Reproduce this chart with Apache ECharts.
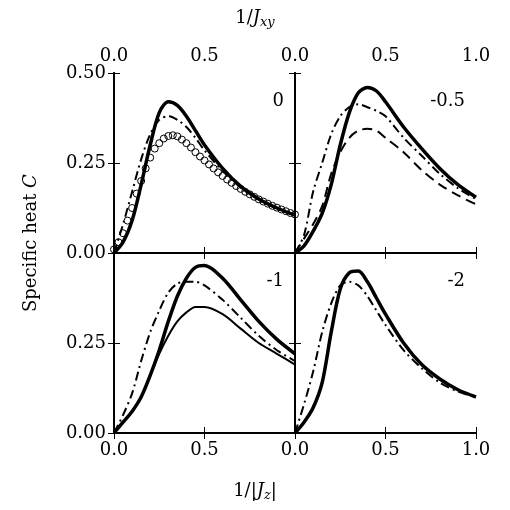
<!DOCTYPE html>
<html>
<head>
<meta charset="utf-8">
<script src="https://cdn.jsdelivr.net/npm/echarts@6/dist/echarts.min.js"></script>
<style>html,body{margin:0;padding:0;background:#fff}#main{width:510px;height:510px}</style>
</head>
<body>
<div id="main"></div>
<script>
// x positions (1/|Jz| or 1/Jxy)
var xs = [0, 0.05, 0.1, 0.15, 0.2, 0.25, 0.3, 0.35, 0.4, 0.45, 0.5, 0.6, 0.7, 0.8, 0.9, 1.0];
var panelLabels = ['0', '-0.5', '-1', '-2'];

// panel 0
var p0Solid = [0, 0.03, 0.09, 0.19, 0.30, 0.39, 0.42, 0.41, 0.38, 0.34, 0.30, 0.235, 0.185, 0.15, 0.125, 0.105];
var p0DashDot = [0, 0.08, 0.17, 0.26, 0.33, 0.37, 0.38, 0.37, 0.35, 0.32, 0.285, 0.228, 0.182, 0.148, 0.123, 0.105];
var circX = [0, 0.025, 0.05, 0.075, 0.1, 0.125, 0.15, 0.175, 0.2, 0.225, 0.25, 0.275, 0.3, 0.325, 0.35, 0.375, 0.4, 0.425, 0.45, 0.475, 0.5,
             0.525, 0.55, 0.575, 0.6, 0.625, 0.65, 0.675, 0.7, 0.725, 0.75, 0.775, 0.8, 0.825, 0.85, 0.875, 0.9, 0.925, 0.95, 0.975, 1.0];
var circY = [0.01, 0.03, 0.055, 0.09, 0.125, 0.165, 0.2, 0.235, 0.265, 0.29, 0.305, 0.318, 0.325, 0.327, 0.324, 0.315, 0.305, 0.293, 0.28, 0.268, 0.257,
             0.246, 0.235, 0.224, 0.214, 0.204, 0.195, 0.186, 0.178, 0.17, 0.163, 0.156, 0.149, 0.143, 0.137, 0.131, 0.126, 0.121, 0.116, 0.111, 0.107];
// panel -0.5
var p1Solid = [0, 0.02, 0.06, 0.11, 0.19, 0.30, 0.39, 0.445, 0.46, 0.45, 0.42, 0.35, 0.29, 0.235, 0.19, 0.155];
var p1DashDot = [0, 0.05, 0.17, 0.25, 0.33, 0.38, 0.405, 0.413, 0.405, 0.395, 0.38, 0.32, 0.27, 0.22, 0.18, 0.15];
var p1Dash = [0, 0.04, 0.08, 0.13, 0.22, 0.28, 0.32, 0.34, 0.345, 0.34, 0.32, 0.28, 0.23, 0.19, 0.16, 0.135];
// panel -1
var p2Thick = [0, 0.03, 0.06, 0.10, 0.16, 0.23, 0.31, 0.38, 0.43, 0.46, 0.465, 0.43, 0.37, 0.31, 0.26, 0.22];
var p2Thin = [0, 0.03, 0.06, 0.10, 0.16, 0.22, 0.27, 0.31, 0.335, 0.35, 0.35, 0.33, 0.29, 0.25, 0.22, 0.19];
var p2DashDot = [0, 0.05, 0.11, 0.20, 0.28, 0.34, 0.39, 0.415, 0.42, 0.42, 0.41, 0.37, 0.32, 0.27, 0.23, 0.20];
// panel -2
var p3Solid = [0, 0.03, 0.07, 0.14, 0.28, 0.40, 0.445, 0.45, 0.42, 0.375, 0.33, 0.25, 0.19, 0.15, 0.12, 0.10];
var p3DashDot = [0, 0.08, 0.17, 0.28, 0.36, 0.41, 0.42, 0.41, 0.38, 0.34, 0.30, 0.23, 0.18, 0.14, 0.115, 0.10];

function pairs(x, y) { return x.map(function (v, i) { return [v, y[i]]; }); }

var font = 'DejaVu Serif';
var grids = [
    {left: 114, top: 73, width: 181, height: 180},
    {left: 295, top: 73, width: 181, height: 180},
    {left: 114, top: 253, width: 181, height: 180},
    {left: 295, top: 253, width: 181, height: 180}
];
var xAxes = [], yAxes = [];
grids.forEach(function (g, i) {
    var top = i < 2;
    var left = i % 2 == 0;
    // labelled x axis (top for upper, bottom for lower); plus mirrored one
    [true, false].forEach(function (primary) {
        var pos = primary ? (top ? 'top' : 'bottom') : (top ? 'bottom' : 'top');
        xAxes.push({
            type: 'value', gridIndex: i, position: pos, min: 0, max: 1, interval: 0.5,
            axisLine: {lineStyle: {color: '#000', width: 2}},
            axisTick: {inside: true, length: 6, lineStyle: {color: '#000', width: 1}},
            axisLabel: {show: primary, color: '#000', fontFamily: font, fontSize: 18, margin: 8,
                formatter: function (v) { return v.toFixed(1); },
                showMaxLabel: !left},
            splitLine: {show: false}
        });
    });
    [true, false].forEach(function (primary) {
        yAxes.push({
            type: 'value', gridIndex: i, position: primary ? 'left' : 'right', min: 0, max: 0.5, interval: 0.25,
            axisLine: {lineStyle: {color: '#000', width: 2}},
            axisTick: {inside: true, length: 6, lineStyle: {color: '#000', width: 1}},
            axisLabel: {show: primary && left, color: '#000', fontFamily: font, fontSize: 18, margin: 8,
                formatter: function (v) { return v.toFixed(2); },
                showMaxLabel: top},
            splitLine: {show: false}
        });
    });
});

function line(grid, data, width, type) {
    return {
        type: 'line', xAxisIndex: grid * 2, yAxisIndex: grid * 2, data: pairs(xs, data),
        smooth: 0.3, symbol: 'none', silent: true,
        lineStyle: {color: '#000', width: width, type: type || 'solid'}
    };
}
var dashDot = [9, 4, 2, 4];
var series = [
    line(0, p0Solid, 3.5), line(0, p0DashDot, 2, dashDot),
    {type: 'scatter', xAxisIndex: 0, yAxisIndex: 0, data: pairs(circX, circY), symbol: 'circle', symbolSize: 7,
        z: 5, itemStyle: {color: 'rgba(255,255,255,0)', borderColor: '#000', borderWidth: 1, opacity: 1}},
    line(1, p1Solid, 3.5), line(1, p1DashDot, 2, dashDot), line(1, p1Dash, 2, [10, 6]),
    line(2, p2Thick, 3.5), line(2, p2Thin, 2), line(2, p2DashDot, 2, dashDot),
    line(3, p3Solid, 3.5), line(3, p3DashDot, 2, dashDot)
];

var labelPos = [[284, 92], [465, 92], [284, 272], [465, 272]];
var graphic = panelLabels.map(function (t, i) {
    return {type: 'text', right: 510 - labelPos[i][0], top: labelPos[i][1],
        style: {text: t, fill: '#000', font: '18px "' + font + '"'}};
});
var rich = {
    n: {fontFamily: font, fontSize: 18}, i: {fontFamily: font, fontStyle: 'italic', fontSize: 18},
    s: {fontFamily: font, fontStyle: 'italic', fontSize: 13, padding: [10, 0, 0, 0]}};
graphic.push({type: 'text', left: 'center', top: 9,
    style: {text: '{n|1/}{i|J}{s|xy}', fill: '#000', rich: rich}});
graphic.push({type: 'text', left: 'center', top: 482,
    style: {text: '{n|1/|}{i|J}{s|z}{n||}', fill: '#000', rich: rich}});
graphic.push({type: 'text', x: 22, y: 312, rotation: Math.PI / 2,
    style: {text: '{n|Specific heat }{i|C}', fill: '#000', rich: rich}});

var myChart = echarts.init(document.getElementById('main'));
myChart.setOption({
    animation: false,
    grid: grids,
    xAxis: xAxes,
    yAxis: yAxes,
    series: series,
    graphic: graphic
});
</script>
</body>
</html>
